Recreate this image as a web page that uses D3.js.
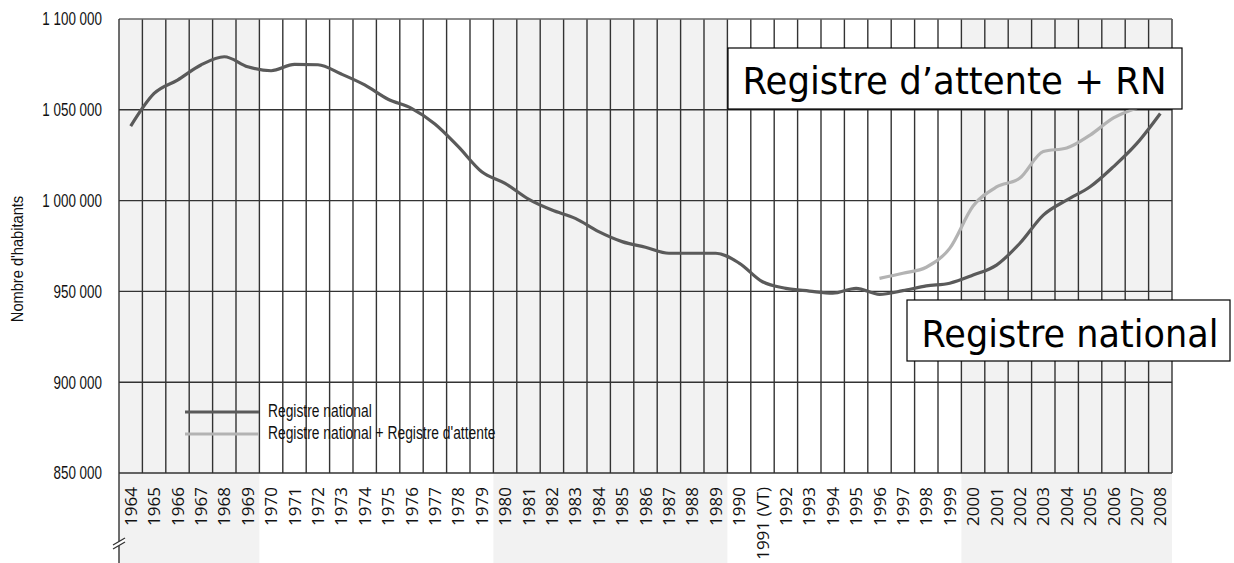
<!DOCTYPE html>
<html>
<head>
<meta charset="utf-8">
<script src="https://cdn.jsdelivr.net/npm/d3@7"></script>
<style>
  body { margin: 0; background: #fff; }
  svg { display: block; }
</style>
</head>
<body>
<svg id="chart"></svg>
<script>
// tick labels (one per year column)
const years = ["1964","1965","1966","1967","1968","1969","1970","1971","1972","1973",
  "1974","1975","1976","1977","1978","1979","1980","1981","1982","1983","1984","1985",
  "1986","1987","1988","1989","1990","1991 (VT)","1992","1993","1994","1995","1996",
  "1997","1998","1999","2000","2001","2002","2003","2004","2005","2006","2007","2008"];

// Registre national, 1964-2008
const registreNational = [1041000, 1059000, 1066400, 1074700, 1079200, 1073700, 1071500,
  1075000, 1074800, 1069700, 1063700, 1055800, 1050800, 1042200, 1029700, 1015900,
  1009500, 1000800, 994800, 990200, 982900, 977400, 974300, 971000, 971000, 971000,
  965600, 955300, 951700, 950200, 949000, 951700, 948400, 950400, 953000, 954500,
  959000, 964500, 976500, 992000, 1000300, 1007600, 1018700, 1031500, 1048000];

// Registre national + Registre d'attente, 1996-2007
const rnPlusAttenteYears = ["1996","1997","1998","1999","2000","2001","2002","2003",
  "2004","2005","2006","2007"];
const rnPlusAttente = [957200, 960000, 963300, 973700, 997000, 1007500, 1012400,
  1027000, 1029000, 1036100, 1045500, 1051000];

const yTicks = [850000, 900000, 950000, 1000000, 1050000, 1100000];
const shadedDecades = [["1964","1969"], ["1980","1989"], ["2000","2008"]];

const width = 1234, height = 563;
const plot = {left: 119, right: 1172, top: 19, bottom: 473};

const svg = d3.select('#chart')
    .attr('width', width)
    .attr('height', height);

const x = d3.scaleBand().domain(years).range([plot.left, plot.right]).padding(0);
const y = d3.scaleLinear().domain([850000, 1100000]).range([plot.bottom, plot.top]);

const fmt = v => d3.format(",")(v).replace(/,/g, " ");

// squeeze a text horizontally, fonts here are wider than the original
function condense(sel, k) {
  sel.each(function() {
    const w = this.getComputedTextLength();
    d3.select(this).attr('textLength', w * k).attr('lengthAdjust', 'spacingAndGlyphs');
  });
}

// shaded decades, running down behind the labels
svg.append('g').selectAll('rect')
    .data(shadedDecades)
    .enter().append('rect')
    .attr('x', d => x(d[0]))
    .attr('y', plot.top)
    .attr('width', d => x(d[1]) + x.bandwidth() - x(d[0]))
    .attr('height', height - plot.top)
    .attr('fill', '#f2f2f2');

// vertical grid lines
svg.append('g').selectAll('line')
    .data(years.slice(1))
    .enter().append('line')
    .attr('x1', d => x(d)).attr('x2', d => x(d))
    .attr('y1', plot.top).attr('y2', plot.bottom)
    .attr('stroke', '#333').attr('stroke-width', 1.4);
svg.append('line')
    .attr('x1', plot.right).attr('x2', plot.right)
    .attr('y1', plot.top).attr('y2', plot.bottom)
    .attr('stroke', '#333').attr('stroke-width', 1.4);

// horizontal grid lines + y labels
const yAxis = svg.append('g');
yAxis.selectAll('line')
    .data(yTicks)
    .enter().append('line')
    .attr('x1', plot.left).attr('x2', plot.right)
    .attr('y1', d => y(d)).attr('y2', d => y(d))
    .attr('stroke', d => d === 1100000 ? '#666' : '#333')
    .attr('stroke-width', d => d === 850000 ? 1.6 : 1.4);
yAxis.selectAll('text')
    .data(yTicks)
    .enter().append('text')
    .attr('x', 102)
    .attr('y', d => y(d))
    .attr('dy', '0.35em')
    .attr('text-anchor', 'end')
    .style('font-family', 'Liberation Sans, Arial, sans-serif')
    .style('font-size', '18.5px')
    .attr('fill', '#111')
    .text(fmt)
    .call(condense, 0.725);

// left axis line goes down past the break
svg.append('line')
    .attr('x1', plot.left).attr('x2', plot.left).attr('y1', plot.top).attr('y2', height)
    .attr('stroke', '#333').attr('stroke-width', 1.4);

// axis break mark
const brk = svg.append('g').attr('stroke', '#333').attr('stroke-width', 1.3);
brk.append('polygon')
    .attr('points', '113,545 125,538 125,542 113,549')
    .attr('fill', '#fff').attr('stroke', 'none');
brk.append('line').attr('x1', 113).attr('y1', 545).attr('x2', 125).attr('y2', 538);
brk.append('line').attr('x1', 113).attr('y1', 549).attr('x2', 125).attr('y2', 542);

// y title
svg.append('text')
    .attr('transform', 'translate(23,259) rotate(-90)')
    .attr('text-anchor', 'middle')
    .style('font-family', 'Liberation Sans, Arial, sans-serif')
    .style('font-size', '17px')
    .attr('fill', '#111')
    .text("Nombre d'habitants")
    .call(condense, 0.86);

// x labels, rotated
svg.append('g').selectAll('text')
    .data(years)
    .enter().append('text')
    .attr('transform', d => 'translate(' + (x(d) + x.bandwidth() / 2) + ',487) rotate(-90)')
    .attr('dy', '0.36em')
    .attr('text-anchor', 'end')
    .style('font-family', 'Open Sans, sans-serif')
    .style('font-size', '17px')
    .attr('fill', '#111')
    .text(d => d);

// lines
const cx = d => x(d) + x.bandwidth() / 2;
const line = d3.line()
    .x(d => cx(d.year))
    .y(d => y(d.value))
    .curve(d3.curveMonotoneX);

svg.append('path')
    .datum(rnPlusAttenteYears.map((yr, i) => ({year: yr, value: rnPlusAttente[i]})))
    .attr('d', line)
    .attr('fill', 'none')
    .attr('stroke', '#b3b3b3')
    .attr('stroke-width', 3.2);

svg.append('path')
    .datum(years.map((yr, i) => ({year: yr, value: registreNational[i]})))
    .attr('d', line)
    .attr('fill', 'none')
    .attr('stroke', '#5a5a5a')
    .attr('stroke-width', 3.2);

// legend
const legend = svg.append('g');
const legendItems = [
  {label: "Registre national", color: '#5a5a5a', y: 412},
  {label: "Registre national + Registre d'attente", color: '#b3b3b3', y: 434}
];
legend.selectAll('line')
    .data(legendItems)
    .enter().append('line')
    .attr('x1', 185).attr('x2', 259)
    .attr('y1', d => d.y).attr('y2', d => d.y)
    .attr('stroke', d => d.color)
    .attr('stroke-width', 3.2);
legend.selectAll('text')
    .data(legendItems)
    .enter().append('text')
    .attr('x', 268)
    .attr('y', d => d.y + 4.5)
    .style('font-family', 'Liberation Sans, Arial, sans-serif')
    .style('font-size', '17.5px')
    .attr('fill', '#111')
    .text(d => d.label)
    .call(condense, 0.79);

// big annotation boxes
const boxes = [
  {label: "Registre d\u2019attente + RN", x: 728, y: 48, w: 454, h: 61, tx: 742.5, ty: 94.3, tw: 424},
  {label: "Registre national", x: 907, y: 300, w: 323, h: 61, tx: 921.5, ty: 346.7, tw: 297}
];
const box = svg.append('g').selectAll('g')
    .data(boxes)
    .enter().append('g');
box.append('rect')
    .attr('x', d => d.x).attr('y', d => d.y)
    .attr('width', d => d.w).attr('height', d => d.h)
    .attr('fill', '#fff')
    .attr('stroke', '#000')
    .attr('stroke-width', 1.2);
box.append('text')
    .attr('x', d => d.tx).attr('y', d => d.ty)
    .attr('textLength', d => d.tw)
    .attr('lengthAdjust', 'spacingAndGlyphs')
    .style('font-family', 'DejaVu Sans, sans-serif')
    .style('font-size', '36.5px')
    .attr('fill', '#000')
    .text(d => d.label);
</script>
</body>
</html>
